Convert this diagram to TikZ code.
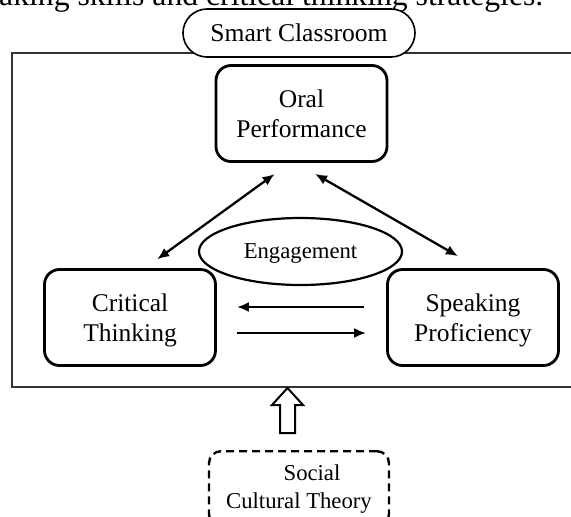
\documentclass[tikz,border=0pt]{standalone}
\usepackage{fontspec}
\setmainfont{Liberation Serif}
\usetikzlibrary{arrows.meta,shapes.geometric}
\begin{document}
\begin{tikzpicture}[x=1pt,y=-1pt,
  box/.style={draw, line width=2.8pt, rounded corners=15pt, minimum width=171pt,
    minimum height=96pt, align=center, font=\fontsize{25.5}{30}\selectfont,
    text depth=0pt, inner sep=0pt},
  tip/.tip={Latex[length=12pt,width=10pt]},
  link/.style={line width=2.3pt, {tip}-{tip}},
  onearrow/.style={line width=2.3pt, -{tip}},
]
\clip (0,0) rectangle (571,517);
% clipped caption text above the figure
\node[anchor=base west, inner sep=0pt, font=\fontsize{31.7}{36}\selectfont] (caption) at (-1,5)
  {aking skills and critical thinking strategies.};
% outer frame (open on the right, cut by the picture edge)
\draw[line width=1.9pt, draw=black!80] (580,53) -- (12,53) -- (12,387) -- (580,387);
% title pill
\node[draw, line width=1.6pt, rounded corners=24pt, fill=white, minimum width=232pt,
  minimum height=48pt, inner sep=0pt, font=\fontsize{25.6}{30}\selectfont, text depth=0pt]
  (sc) at (299,33) {Smart Classroom};
% main boxes
\node[box] (oral) at (301.5,113.5) {Oral\\Performance};
\node[box] (crit) at (130,317.5) {Critical\\Thinking};
\node[box] (spk) at (473,317.5) {Speaking\\Proficiency};
% engagement ellipse
\node[ellipse, draw, line width=2.2pt, minimum width=203pt, minimum height=67pt, inner sep=0pt,
  font=\fontsize{22.7}{27}\selectfont, text depth=0pt] (eng) at (300.5,251.5) {Engagement};
% connectors
\draw[link, shorten <=15pt, shorten >=19pt] ([xshift=15pt]crit.north) -- ([xshift=-11.5pt]oral.south);
\draw[link, shorten <=22pt, shorten >=24pt] ([xshift=-5.5pt]oral.south) -- ([xshift=5.7pt]spk.north);
\draw[onearrow, shorten <=22pt, shorten >=20pt] ([yshift=10.5pt]spk.west) -- ([yshift=10.5pt]crit.east);
\draw[onearrow, shorten <=20pt, shorten >=20pt] ([yshift=-15.5pt]crit.east) -- ([yshift=-15.5pt]spk.west);
% theory box
\node[draw, dash pattern=on 8pt off 5pt, line width=2.4pt, rounded corners=12pt,
  minimum width=180pt, minimum height=75pt, align=center,
  font=\fontsize{22.7}{28}\selectfont, inner sep=0pt]
  (sct) at (299,488.7) {\hspace*{26pt}Social\\Cultural Theory};
% hollow block arrow
\draw[line width=2pt, fill=white, line join=miter]
  (287.5,388) -- (303,405) -- (295,405) -- (295,433) -- (280,433) -- (280,405) -- (272,405) -- cycle;
\end{tikzpicture}
\end{document}
